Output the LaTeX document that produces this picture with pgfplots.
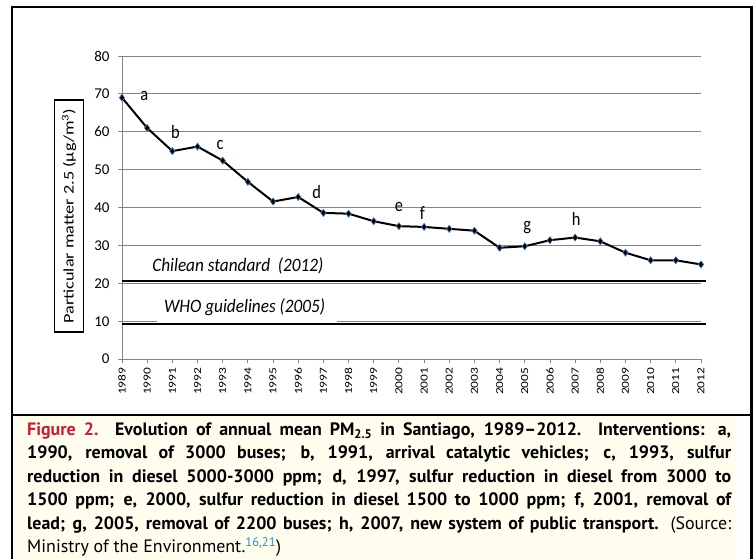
\documentclass[border=0pt]{standalone}
\usepackage{fontspec}
\setmainfont{Carlito}
\newfontfamily\capfont{PT Sans}
\usepackage{pgfplots}
\pgfplotsset{compat=1.18}
\definecolor{gridgray}{RGB}{134,134,134}
\definecolor{cream}{RGB}{255,253,238}
\definecolor{figred}{RGB}{200,30,50}
\definecolor{refblue}{RGB}{30,150,210}
\definecolor{mkblue}{RGB}{79,129,189}
\begin{document}
\begin{tikzpicture}
\path[use as bounding box] (0,0) rectangle (754bp,559bp);
\fill[white] (0,0) rectangle (754bp,559bp);
\fill[cream] (13bp,0) rectangle (737bp,143bp);
\begin{axis}[
  at={(122bp,199.8bp)}, anchor=south west, scale only axis,
  width=579bp, height=303.2bp,
  xmin=1989, xmax=2012, ymin=0, ymax=80,
  axis x line=bottom, axis y line=left,
  axis line style={-, gridgray, line width=0.8bp},
  xtick={1989,...,2012}, ytick={0,10,...,80},
  tick style={gridgray, line width=0.8bp},
  tick align=outside, major tick length=4bp,
  ymajorgrids, grid style={gridgray, line width=0.8bp},
  /pgf/number format/assume math mode=true,
  /pgf/number format/1000 sep={},
  xticklabel={\scalebox{1}[0.8]{\pgfmathprintnumber[assume math mode=true,1000 sep={}]{\tick}}},
  xticklabel style={rotate=90, anchor=east, font=\fontsize{13.5}{13.5}\selectfont, xshift=-1bp},
  yticklabel style={font=\fontsize{15}{15}\selectfont, xshift=-5bp},
  clip=false,
]
\fill[white] (axis cs:1990.39,9.75) rectangle (axis cs:1997.54,16.5);
\addplot[black, line width=2bp] coordinates {(1989,20.55) (2012.19,20.55)};
\addplot[black, line width=2bp] coordinates {(1989,9.4) (2012.19,9.4)};
\addplot[black, line width=2bp, mark=diamond*, mark size=3.6bp,
  mark options={fill=black, draw=mkblue, line width=0.6bp}] coordinates {
  (1989,69.0) (1990,61.0) (1991,54.9) (1992,56.1) (1993,52.4) (1994,46.8)
  (1995,41.6) (1996,42.8) (1997,38.6) (1998,38.4) (1999,36.4) (2000,35.1)
  (2001,34.9) (2002,34.4) (2003,33.9) (2004,29.4) (2005,29.8) (2006,31.4)
  (2007,32.1) (2008,31.1) (2009,28.1) (2010,26.1) (2011,26.1) (2012,25.0)};
\node[font=\fontsize{17.3}{17.3}\selectfont\itshape] at (axis cs:1993.6,24.6) {\scalebox{1}[1.1]{Chilean standard\ \ (2012)}};
\node[font=\fontsize{17.3}{17.3}\selectfont\itshape] at (axis cs:1993.87,13.6) {\scalebox{1}[1.1]{WHO guidelines (2005)}};
\begin{scope}[every node/.style={font=\fontsize{16.5}{16.5}\selectfont, inner sep=0}]
\node at (axis cs:1989.89,69.5) {\scalebox{1}[1.15]{a}};
\node at (axis cs:1991.12,59.9) {\scalebox{1}[1.15]{b}};
\node at (axis cs:1992.9,56.5) {\scalebox{1}[1.15]{c}};
\node at (axis cs:1996.73,44.1) {\scalebox{1}[1.15]{d}};
\node at (axis cs:2000.0,40.2) {\scalebox{1}[1.15]{e}};
\node at (axis cs:2000.93,38.5) {\scalebox{1}[1.15]{f}};
\node at (axis cs:2005.1,34.8) {\scalebox{1}[1.15]{g}};
\node at (axis cs:2007.04,36.9) {\scalebox{1}[1.15]{h}};
\end{scope}
\end{axis}
\node[draw, line width=1.8bp, rotate=90, minimum width=232bp, minimum height=29bp, inner sep=0,
  font=\fontsize{18.3}{18.3}\selectfont] at (69bp,342.8bp) {\scalebox{1}[0.8]{Particular matter 2.5 (µg/m\textsuperscript{3})}};
\draw[line width=2.2bp] (11.7bp,-5bp) -- (11.7bp,552bp) -- (751.5bp,552bp) -- (751.5bp,-5bp);
\draw[line width=2bp] (11.7bp,144bp) -- (751.5bp,144bp);
\begin{scope}[every node/.style={anchor=base west, inner sep=0, font=\capfont\fontsize{18}{20}\selectfont}]
\node at (27bp,123.3bp) {\makebox[704bp][s]{\bfseries{\color{figred}Figure 2.} Evolution of annual mean PM\textsubscript{2.5} in Santiago, 1989–2012. Interventions: a,}};
\node at (27bp,100.0bp) {\makebox[704bp][s]{\bfseries 1990, removal of 3000 buses; b, 1991, arrival catalytic vehicles; c, 1993, sulfur}};
\node at (27bp,76.6bp) {\makebox[704bp][s]{\bfseries reduction in diesel 5000-3000 ppm; d, 1997, sulfur reduction in diesel from 3000 to}};
\node at (27bp,53.2bp) {\makebox[704bp][s]{\bfseries 1500 ppm; e, 2000, sulfur reduction in diesel 1500 to 1000 ppm; f, 2001, removal of}};
\node at (27bp,29.8bp) {\makebox[704bp][s]{\bfseries lead; g, 2005, removal of 2200 buses; h, 2007, new system of public transport. \mdseries (Source:}};
\node at (27bp,6.4bp) {Ministry of the Environment.\textsuperscript{\color{refblue}16,21})};
\end{scope}
\end{tikzpicture}
\end{document}
